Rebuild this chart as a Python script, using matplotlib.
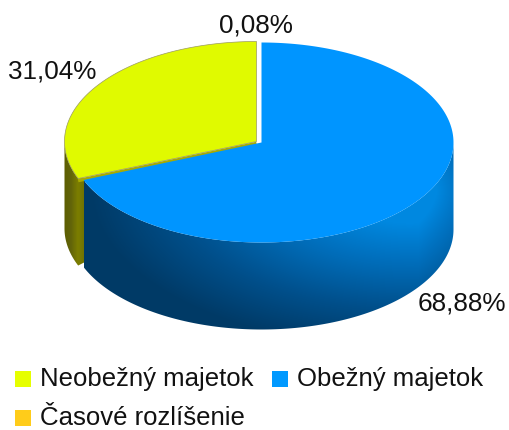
import numpy as np
import matplotlib
matplotlib.use('Agg')
import matplotlib.pyplot as plt
from matplotlib.patches import Polygon, Rectangle
from matplotlib.colors import LinearSegmentedColormap

plt.rcParams['font.family'] = ['Liberation Sans', 'DejaVu Sans']

# data
categories = ['Neobežný majetok', 'Obežný majetok', 'Časové rozlíšenie']
values = [31.04, 68.88, 0.08]
colors = ['#e0fa00', '#0095ff', '#ffcc1a']
legend_colors = ['#e6ff00', '#0099ff', '#ffcc1a']
label_texts = ['31,04%', '68,88%', '0,08%']

W, H = 509, 430
RX, RY, DEPTH = 192, 100, 87


def arc(cx, cy, a0, a1, n=200):
    t = np.radians(np.linspace(a0, a1, n))
    return np.column_stack([cx + RX * np.cos(t), cy - RY * np.sin(t)])


fig = plt.figure(figsize=(W / 100, H / 100), dpi=100)
ax = fig.add_axes([0, 0, 1, 1])
ax.set_xlim(0, W)
ax.set_ylim(H, 0)
ax.axis('off')

# uhly z hodnot, od vrchu: neobezny proti smeru hodin, obezny po smere
yellow_end = 90 + values[0] * 3.6
blue_start = 90 - values[1] * 3.6
yx, yy = 256.5, 141.5
bx, by = 261.5, 142.5

# bocna stena - zlta, s rezom az po modru stenu
wall = np.vstack([arc(yx, yy, 180, yellow_end), [[85, 178], [85, 262]],
                  arc(yx, yy + DEPTH, yellow_end, 180)])
cm = LinearSegmentedColormap.from_list('y', ['#5c5d00', '#62640a', '#7c7e00', '#6f7100'])
im = ax.imshow(np.linspace(0, 1, 64).reshape(1, -1), cmap=cm, extent=[64, 85, 280, 130],
               aspect='auto', zorder=1)
im.set_clip_path(Polygon(wall, transform=ax.transData))

# bocna stena - modra, tmava vlavo a dole, svetla vpravo hore
X, Y = np.meshgrid(np.linspace(84, 454, 370), np.linspace(140, 332, 192))
d = np.sqrt(((X - 410) / 330) ** 2 + ((Y - 190) / 165) ** 2)
g = np.clip(1 - d, 0, 1) * (0.75 + 0.25 * np.clip((454 - X) / 35, 0, 1))
cm = LinearSegmentedColormap.from_list('b', ['#003a66', '#00508c', '#006cb8', '#0088e0'])
im = ax.imshow(g, cmap=cm, vmin=0.03, vmax=0.8, extent=[84, 454, 332, 140], aspect='auto', zorder=2)
wall = np.vstack([arc(bx, by, 0, blue_start), arc(bx, by + DEPTH, blue_start, 0)])
im.set_clip_path(Polygon(wall, transform=ax.transData))

# vrchna plocha
ax.add_patch(Polygon(np.vstack([[yx, yy + 2], arc(yx, yy + 2, yellow_end, yellow_end, 2)]),
                     closed=True, fc='#a9ab00', ec='#a9ab00', lw=2.5, zorder=3))
ax.add_patch(Polygon(np.vstack([[yx, yy], arc(yx, yy, 90, yellow_end)]), closed=True,
                     fc=colors[0], ec='#9a9a60', lw=0.5, zorder=4))
ax.add_patch(Polygon(np.vstack([[bx, by], arc(bx, by, blue_start, 90)]), closed=True,
                     fc=colors[1], ec='none', zorder=5))

# popisky
ax.text(52, 71, label_texts[0], fontsize=18.8, ha='center', va='center', color='#111111')
ax.text(462, 304, label_texts[1], fontsize=18.8, ha='center', va='center', color='#111111')
ax.text(256, 26, label_texts[2], fontsize=18.8, ha='center', va='center', color='#111111')

# legenda
legend_pos = [(15, 379), (272, 379), (15, 418)]
for name, c, (lx, ly) in zip(categories, legend_colors, legend_pos):
    ax.add_patch(Rectangle((lx, ly - 8), 16, 16, fc=c, ec='none', zorder=5))
    ax.text(lx + 25, ly, name, fontsize=18.5, ha='left', va='center', color='#111111')

fig.savefig('out.png', dpi=100)
